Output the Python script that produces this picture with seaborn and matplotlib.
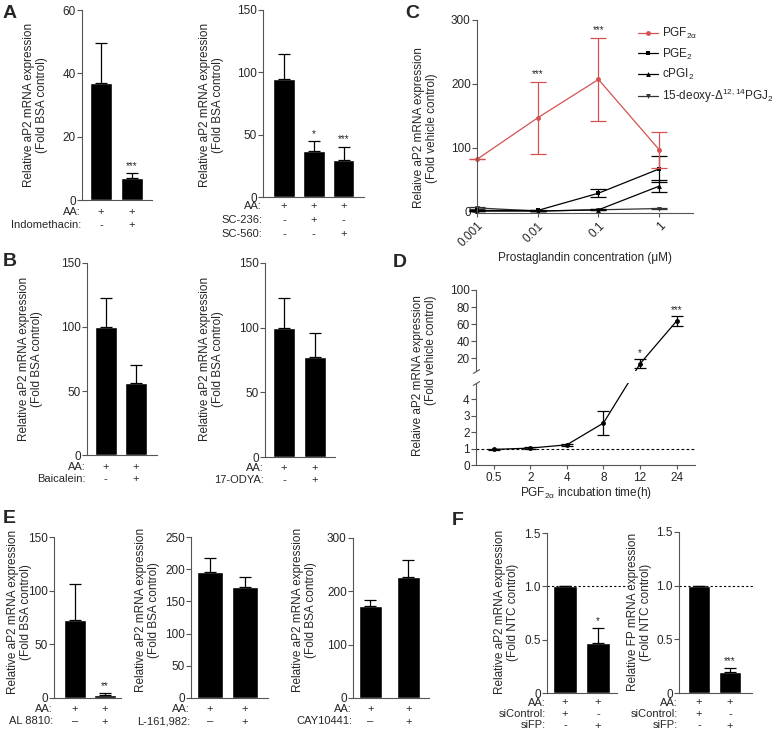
import matplotlib
matplotlib.use('Agg')
import matplotlib.pyplot as plt
import seaborn as sns
import numpy as np

# ---- data ----
a1_vals = [37, 7]
a1_err = [12.5, 1.5]
a2_vals = [95, 37, 30]
a2_err = [20, 8, 10.5]

b1_vals = [100, 56]
b1_err = [23, 14]
b2_vals = [100, 77]
b2_err = [23, 19]

c_conc = [0.001, 0.01, 0.1, 1]
c_pgf = [82, 147, 207, 97]
c_pgf_err = [0, 56, 65, 28]
c_pge = [2, 2, 29, 67]
c_pge_err = [1, 1, 6, 20]
c_pgi = [1, 1, 3, 40]
c_pgi_err = [0.5, 0.5, 1, 9]
c_pgj = [6, 1, 3, 5]
c_pgj_err = [1.5, 0.5, 0.5, 1]

d_time = ['0.5', '2', '4', '8', '12', '24']
d_vals = [0.95, 1.03, 1.23, 2.56, 13.5, 63.7]
d_err = [0.05, 0.05, 0.05, 0.76, 5, 6]

e1_vals = [73, 3]
e1_err = [33, 1.3]
e2_vals = [195, 172]
e2_err = [22, 16]
e3_vals = [172, 226]
e3_err = [12, 32]

f1_vals = [1.0, 0.47]
f1_err = [0, 0.14]
f2_vals = [1.0, 0.2]
f2_err = [0, 0.035]

W, H = 774, 732
RED = '#d45252'
SPINE = '#555555'
FS = 8.5
FS_ROW = 8

sns.set_style('ticks')
plt.rcParams['font.family'] = ['Liberation Sans', 'DejaVu Sans']
plt.rcParams['mathtext.fontset'] = 'custom'
plt.rcParams['mathtext.rm'] = 'Liberation Sans'
plt.rcParams['mathtext.it'] = 'Liberation Sans:italic'
plt.rcParams['mathtext.bf'] = 'Liberation Sans:bold'

fig = plt.figure(figsize=(W / 100, H / 100), dpi=100)


def rect(l, t, r, b):
    return [l / W, 1 - b / H, (r - l) / W, (b - t) / H]


def style_ax(ax, xticks=False):
    for s in ['top', 'right']:
        ax.spines[s].set_visible(False)
    for s in ['left', 'bottom']:
        ax.spines[s].set_color(SPINE)
        ax.spines[s].set_linewidth(0.8)
    ax.tick_params(axis='y', length=3.5, width=0.8, color=SPINE, labelsize=FS, pad=1)
    ax.tick_params(axis='x', length=3 if xticks else 0, width=0.8, color=SPINE, labelsize=FS, pad=2)


def ylab(ax, text, px, py):
    ax.set_ylabel(text, fontsize=FS, linespacing=1.15)
    ax.yaxis.set_label_coords(px / W, 1 - py / H, transform=fig.transFigure)


def bar_panel(ax, vals, errs, ylim, yticks, xlim, rows, width=0.72, stars=None,
              first_off=11, gap=13, fmt=None):
    pos = list(range(len(vals)))
    sns.barplot(x=pos, y=vals, color='black', saturation=1, width=width, ax=ax)
    ax.errorbar(pos, vals, yerr=[[0] * len(vals), errs], fmt='none', ecolor='black',
                elinewidth=0.9, capsize=4, capthick=0.9)
    ax.set_ylim(*ylim)
    ax.set_yticks(yticks)
    if fmt is not None:
        ax.set_yticklabels(fmt)
    ax.set_xlim(*xlim)
    ax.set_xticks([])
    ax.set_xlabel('')
    style_ax(ax)
    if stars:
        for i, s in stars.items():
            ax.annotate(s, xy=(i, vals[i] + errs[i]), xytext=(0, 2), textcoords='offset pixels',
                        ha='center', va='bottom', fontsize=7)
    # treatment table under the bars
    for k, (name, signs) in enumerate(rows):
        dy = first_off + k * gap
        ax.annotate(name, xy=(xlim[0], 0), xycoords=('data', 'axes fraction'),
                    xytext=(-1, -dy), textcoords='offset pixels', ha='right', va='center',
                    fontsize=FS_ROW)
        for j, s in enumerate(signs):
            ax.annotate(s, xy=(j, 0), xycoords=('data', 'axes fraction'),
                        xytext=(0, -dy), textcoords='offset pixels', ha='center', va='center',
                        fontsize=FS_ROW)


BSA = 'Relative aP2 mRNA expression\n(Fold BSA control)'

# ---- A ----
ax = fig.add_axes(rect(82, 10, 152, 200))
bar_panel(ax, a1_vals, a1_err, (0, 60), [0, 20, 40, 60], (-0.61, 1.65),
          [('AA:', '++'), ('Indomethacin:', '-+')], stars={1: '***'}, first_off=12, gap=13)
ylab(ax, BSA, 48, 105)

ax = fig.add_axes(rect(263, 10, 364, 197))
bar_panel(ax, a2_vals, a2_err, (0, 150), [0, 50, 100, 150], (-0.7, 2.68),
          [('AA:', '+++'), ('SC-236:', '-+-'), ('SC-560:', '--+')],
          stars={1: '*', 2: '***'}, first_off=9, gap=14)
ylab(ax, BSA, 224, 105)

# ---- B ----
ax = fig.add_axes(rect(87, 263, 157, 455))
bar_panel(ax, b1_vals, b1_err, (0, 150), [0, 50, 100, 150], (-0.61, 1.69),
          [('AA:', '++'), ('Baicalein:', '-+')], first_off=12, gap=12)
ylab(ax, BSA, 43, 359)

ax = fig.add_axes(rect(265, 263, 335, 457))
bar_panel(ax, b2_vals, b2_err, (0, 150), [0, 50, 100, 150], (-0.62, 1.67),
          [('AA:', '++'), ('17-ODYA:', '-+')], first_off=11, gap=12)
ylab(ax, BSA, 224, 359)

# ---- C ----
ax = fig.add_axes(rect(477, 20, 693, 213))
series = [
    (c_pgf, c_pgf_err, RED, 'o', r'PGF$_{\mathregular{2\alpha}}$'),
    (c_pge, c_pge_err, 'black', 's', r'PGE$_{\mathregular{2}}$'),
    (c_pgi, c_pgi_err, 'black', '^', r'cPGI$_{\mathregular{2}}$'),
    (c_pgj, c_pgj_err, '#333333', 'v', r'15-deoxy-Δ$^{\mathregular{12,14}}$PGJ$_{\mathregular{2}}$'),
]
for vals, errs, col, mk, lab in series[::-1]:
    ax.errorbar(c_conc, vals, yerr=errs, fmt='none', ecolor=col, elinewidth=0.9,
                capsize=5.5, capthick=0.9, clip_on=False)
    sns.lineplot(x=c_conc, y=vals, color=col, marker=mk, markersize=3.5, markeredgewidth=0,
                 linewidth=0.9, label=lab, ax=ax, clip_on=False)
ax.set_xscale('log')
ax.set_xlim(1e-3, 3.6)
ax.set_ylim(-2, 300)
ax.set_yticks([0, 100, 200, 300])
ax.set_xticks(c_conc)
ax.set_xticklabels(['0.001', '0.01', '0.1', '1'], rotation=45, ha='right', rotation_mode='anchor')
ax.minorticks_off()
style_ax(ax, xticks=True)
for i in [1, 2]:
    ax.annotate('***', xy=(c_conc[i], c_pgf[i] + c_pgf_err[i]), xytext=(0, 3), textcoords='offset pixels',
                ha='center', va='bottom', fontsize=7)
ax.set_xlabel('Prostaglandin concentration (μM)', fontsize=FS, labelpad=2)
ylab(ax, 'Relaive aP2 mRNA expression\n(Fold vehicle control)', 438, 128)
h, l = ax.get_legend_handles_labels()
ax.legend(h[::-1], l[::-1], loc='upper left', bbox_to_anchor=(638 / W, 1 - 26 / H),
          bbox_transform=fig.transFigure, frameon=False, fontsize=FS, handlelength=1.7,
          handletextpad=0.3, borderpad=0, borderaxespad=0, labelspacing=0.45)

# ---- D (broken axis) ----
ax_hi = fig.add_axes(rect(476, 290, 695, 371))
ax_lo = fig.add_axes(rect(476, 383, 695, 465))
xpos = list(range(len(d_time)))
ax_lo.errorbar(xpos[:4], d_vals[:4], yerr=d_err[:4], fmt='none', ecolor='black',
               elinewidth=0.9, capsize=4, capthick=0.9)
ax_hi.errorbar(xpos[4:], d_vals[4:], yerr=d_err[4:], fmt='none', ecolor='black',
               elinewidth=0.9, capsize=4, capthick=0.9)
for a in [ax_hi, ax_lo]:
    a.set_xlim(-0.48, 5.5)
    style_ax(a, xticks=True)
sns.lineplot(x=xpos[:4], y=d_vals[:4], color='black', marker='o', markersize=3.5,
             markeredgewidth=0, linewidth=0.9, ax=ax_lo)
sns.lineplot(x=xpos[4:], y=d_vals[4:], color='black', marker='o', markersize=3.5,
             markeredgewidth=0, linewidth=0.9, ax=ax_hi)
ax_lo.set_ylim(0, 5)
ax_lo.set_yticks([0, 1, 2, 3, 4])
ax_hi.set_ylim(5, 100)
ax_hi.set_yticks([20, 40, 60, 80, 100])
# segment 8h -> 12h drawn straight across the gap
p8 = ax_lo.transData.transform((3, d_vals[3]))
p12 = ax_hi.transData.transform((4, d_vals[4]))
y12_lo = ax_lo.transData.inverted().transform(p12)[1]
y8_hi = ax_hi.transData.inverted().transform(p8)[1]
ax_lo.plot([3, 4], [d_vals[3], y12_lo], color='black', lw=0.9)
ax_hi.plot([3, 4], [y8_hi, d_vals[4]], color='black', lw=0.9)
ax_lo.axhline(1, color='black', lw=0.8, ls=(0, (2.5, 2)))
ax_hi.spines['bottom'].set_visible(False)
ax_hi.set_xticks([])
ax_lo.set_xticks(xpos)
ax_lo.set_xticklabels(d_time)
ax_lo.set_xlabel(r'PGF$_{\mathregular{2\alpha}}$ incubation time(h)', fontsize=FS, labelpad=1)
for a, yy in [(ax_hi, 0), (ax_lo, 1)]:
    a.plot([0], [yy], transform=a.transAxes, marker=[(-1, -0.6), (1, 0.6)], markersize=5,
           linestyle='none', color=SPINE, mew=0.8, clip_on=False)
ax_hi.annotate('*', xy=(4, d_vals[4] + d_err[4]), xytext=(0, 1), textcoords='offset pixels',
               ha='center', va='bottom', fontsize=7)
ax_hi.annotate('***', xy=(5, d_vals[5] + d_err[5]), xytext=(0, 1), textcoords='offset pixels',
               ha='center', va='bottom', fontsize=7)
ax_lo.set_ylabel('')
ax_hi.set_ylabel('')
fig.text(437 / W, 1 - 376 / H, 'Relaive aP2 mRNA expression\n(Fold vehicle control)',
         rotation=90, ha='right', va='center', fontsize=FS, linespacing=1.15)

# ---- E ----
ax = fig.add_axes(rect(54, 537, 121, 698))
bar_panel(ax, e1_vals, e1_err, (0, 150), [0, 50, 100, 150], (-0.7, 1.53),
          [('AA:', '++'), ('AL 8810:', '–+')], stars={1: '**'}, first_off=11, gap=12.5)
ylab(ax, BSA, 32, 612)

ax = fig.add_axes(rect(191, 537, 268, 698))
bar_panel(ax, e2_vals, e2_err, (0, 250), [0, 50, 100, 150, 200, 250], (-0.54, 1.66),
          [('AA:', '++'), ('L-161,982:', '–+')], first_off=11, gap=12.5)
ylab(ax, BSA, 160, 610)

ax = fig.add_axes(rect(353, 538, 429, 698))
bar_panel(ax, e3_vals, e3_err, (0, 300), [0, 100, 200, 300], (-0.46, 1.54),
          [('AA:', '++'), ('CAY10441:', '–+')], width=0.62, first_off=11, gap=12.5)
ylab(ax, BSA, 317, 610)

# ---- F ----
ax = fig.add_axes(rect(547, 533, 617, 693))
bar_panel(ax, f1_vals, f1_err, (0, 1.5), [0, 0.5, 1.0, 1.5], (-0.55, 1.58),
          [('AA:', '++'), ('siControl:', '+-'), ('siFP:', '-+')], stars={1: '*'},
          first_off=9.5, gap=11.5, fmt=['0', '0.5', '1.0', '1.5'])
ax.plot([-0.55, 1.95], [1, 1], color='black', lw=0.8, ls=(0, (2, 2)), clip_on=False)
ylab(ax, 'Relative aP2 mRNA expression\n(Fold NTC control)', 519, 612)

ax = fig.add_axes(rect(679, 532, 752, 693))
bar_panel(ax, f2_vals, f2_err, (0, 1.5), [0, 0.5, 1.0, 1.5], (-0.65, 1.71),
          [('AA:', '++'), ('siControl:', '+-'), ('siFP:', '-+')], stars={1: '***'},
          first_off=9.5, gap=11.5, fmt=['0', '0.5', '1.0', '1.5'])
ax.plot([-0.65, 1.75], [1, 1], color='black', lw=0.8, ls=(0, (2, 2)), clip_on=False)
ylab(ax, 'Relative FP mRNA expression\n(Fold NTC control)', 652, 612)

# ---- panel letters ----
for letter, x, y in [('A', 3, 5), ('B', 3, 253), ('C', 405, 5), ('D', 393, 254),
                     ('E', 3, 510), ('F', 452, 512)]:
    fig.text(x / W, 1 - y / H, letter, fontsize=14, fontweight='bold', ha='left', va='top')

fig.savefig('out.png', dpi=100)
